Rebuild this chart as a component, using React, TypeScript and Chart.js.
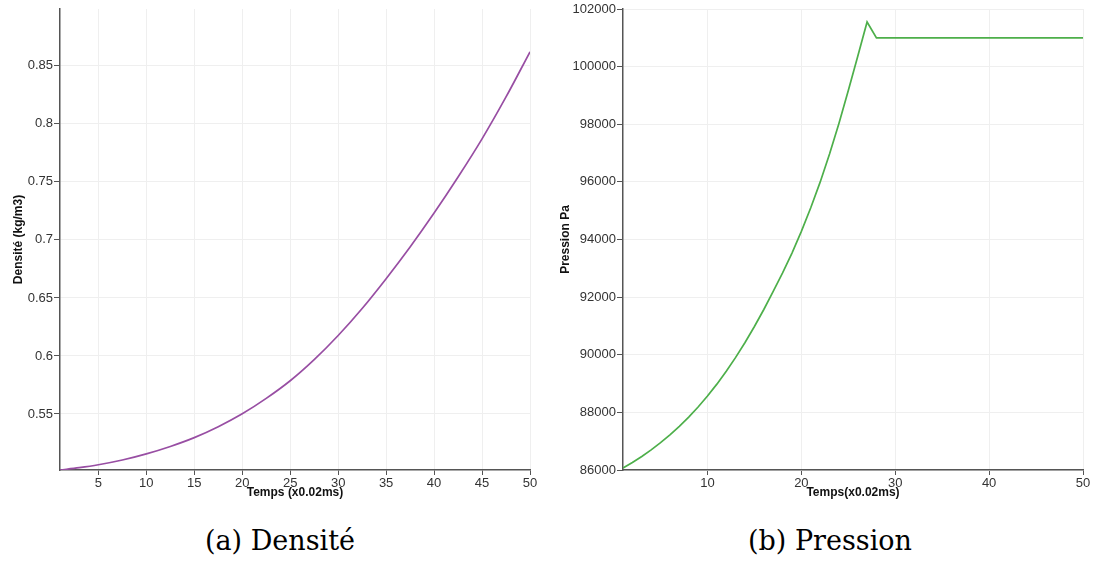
import React, { useEffect, useRef } from "react";
import { Chart, registerables } from "chart.js";

Chart.register(...registerables);

// ---- Data ----
const densityTime = [1, 3, 5, 7.5, 10, 12.5, 15, 17.5, 20, 22.5, 25, 27.5, 30, 32.5, 35, 37.5, 40, 42.5, 45, 47.5, 50];
const densityValues = [
  0.5017, 0.5037, 0.5062, 0.5103, 0.5156, 0.522, 0.5296, 0.539, 0.5501, 0.5634, 0.5786, 0.5968,
  0.6176, 0.6409, 0.6666, 0.6939, 0.7231, 0.7542, 0.7871, 0.8232, 0.8621,
];

const pressureTime = [
  1, 2, 3, 4, 5, 6, 7, 8, 9, 10, 11, 12, 13, 14, 15, 16, 17, 18, 19, 20, 21, 22, 23, 24, 25, 26, 27, 28,
  30, 35, 40, 45, 50,
];
const pressureValues = [
  86070, 86260, 86470, 86700, 86950, 87222, 87518, 87838, 88188, 88568, 88980, 89426, 89908, 90426,
  90980, 91570, 92200, 92840, 93530, 94280, 95100, 95990, 96970, 98030, 99170, 100350, 101550, 101000,
  101000, 101000, 101000, 101000, 101000,
];

const densityXTicks = [5, 10, 15, 20, 25, 30, 35, 40, 45, 50];
const densityYTicks = [0.55, 0.6, 0.65, 0.7, 0.75, 0.8, 0.85];
const pressureXTicks = [10, 20, 30, 40, 50];
const pressureYTicks = [86000, 88000, 90000, 92000, 94000, 96000, 98000, 100000, 102000];

const xTitleDensity = "Temps (x0.02ms)";
const yTitleDensity = "Densité (kg/m3)";
const xTitlePressure = "Temps(x0.02ms)";
const yTitlePressure = "Pression Pa";
const captionDensity = "(a) Densité";
const captionPressure = "(b) Pression";

const FONT = "'Liberation Sans', Arial, sans-serif";
const AXIS = "#555555";
const GRID = "#efefef";

type Cfg = {
  xs: number[];
  ys: number[];
  color: string;
  xTicks: number[];
  yTicks: number[];
  xMin: number;
  xMax: number;
  yMin: number;
  yMax: number;
  xTitle: string;
  yTitle: string;
  yWidth: number;
  padRight: number;
  smooth: boolean;
};

function makeConfig(c: Cfg): any {
  const points = c.xs.map((x, i) => ({ x, y: c.ys[i] }));
  const tickFont = { family: FONT, size: 13 };
  const titleFont = { family: FONT, size: 12, weight: "bold" as const, lineHeight: 1.2 };
  return {
    type: "line",
    data: {
      datasets: [
        {
          data: points,
          borderColor: c.color,
          borderWidth: 1.7,
          pointRadius: 0,
          tension: c.smooth ? 0.4 : 0,
          cubicInterpolationMode: c.smooth ? "monotone" : "default",
          fill: false,
        },
      ],
    },
    options: {
      responsive: false,
      animation: false,
      devicePixelRatio: 1,
      layout: { padding: { top: 9, right: c.padRight, bottom: 0, left: 0 } },
      plugins: { legend: { display: false }, tooltip: { enabled: false } },
      scales: {
        x: {
          type: "linear",
          min: c.xMin,
          max: c.xMax,
          afterBuildTicks: (axis: any) => {
            axis.ticks = c.xTicks.map((v) => ({ value: v }));
          },
          afterFit: (scale: any) => {
            scale.height = 40;
          },
          ticks: {
            font: tickFont,
            color: "#333333",
            padding: 1,
            maxRotation: 0,
            autoSkip: false,
            callback: (v: any) => String(v),
          },
          grid: { color: GRID, tickColor: AXIS, tickLength: 5, lineWidth: 1 },
          border: { color: AXIS, width: 1.5 },
          title: {
            display: true,
            text: c.xTitle,
            font: titleFont,
            color: "#111111",
            padding: { top: 0, bottom: 10 },
          },
        },
        y: {
          type: "linear",
          min: c.yMin,
          max: c.yMax,
          afterBuildTicks: (axis: any) => {
            axis.ticks = c.yTicks.map((v) => ({ value: v }));
          },
          afterFit: (scale: any) => {
            scale.width = c.yWidth;
          },
          ticks: {
            font: tickFont,
            color: "#333333",
            padding: 1,
            autoSkip: false,
            callback: (v: any) => String(v),
          },
          grid: { color: GRID, tickColor: AXIS, tickLength: 6, lineWidth: 1 },
          border: { color: AXIS, width: 1.5 },
          title: {
            display: true,
            text: c.yTitle,
            font: titleFont,
            color: "#111111",
            padding: { top: 11, bottom: 0 },
          },
        },
      },
    },
  };
}

function ChartCanvas({ cfg, width, height }: { cfg: Cfg; width: number; height: number }) {
  const ref = useRef<HTMLCanvasElement | null>(null);
  useEffect(() => {
    if (!ref.current) return;
    const chart = new Chart(ref.current, makeConfig(cfg));
    return () => chart.destroy();
  }, []);
  return <canvas ref={ref} width={width} height={height} style={{ width, height, display: "block" }} />;
}

export default function App() {
  const left: Cfg = {
    xs: densityTime,
    ys: densityValues,
    color: "#984ea3",
    xTicks: densityXTicks,
    yTicks: densityYTicks,
    xMin: 1,
    xMax: 50,
    yMin: 0.5017,
    yMax: 0.899,
    xTitle: xTitleDensity,
    yTitle: yTitleDensity,
    yWidth: 60,
    padRight: 17,
    smooth: true,
  };
  const right: Cfg = {
    xs: pressureTime,
    ys: pressureValues,
    color: "#4daf4a",
    xTicks: pressureXTicks,
    yTicks: pressureYTicks,
    xMin: 1,
    xMax: 50,
    yMin: 86000,
    yMax: 102000,
    xTitle: xTitlePressure,
    yTitle: yTitlePressure,
    yWidth: 76,
    padRight: 11,
    smooth: false,
  };
  const captionStyle: React.CSSProperties = {
    position: "absolute",
    top: 521,
    height: 40,
    lineHeight: "40px",
    width: 400,
    textAlign: "center",
    fontFamily: "'DejaVu Serif', serif",
    fontSize: 27,
    color: "#000",
  };
  return (
    <div style={{ position: "absolute", left: 0, top: 0, width: 1094, height: 563, background: "#fff" }}>
      <div style={{ position: "absolute", left: 0, top: 0 }}>
        <ChartCanvas cfg={left} width={547} height={510} />
      </div>
      <div style={{ position: "absolute", left: 547, top: 0 }}>
        <ChartCanvas cfg={right} width={547} height={510} />
      </div>
      <div style={{ ...captionStyle, left: 280 - 200 }}>{captionDensity}</div>
      <div style={{ ...captionStyle, left: 830 - 200 }}>{captionPressure}</div>
    </div>
  );
}
